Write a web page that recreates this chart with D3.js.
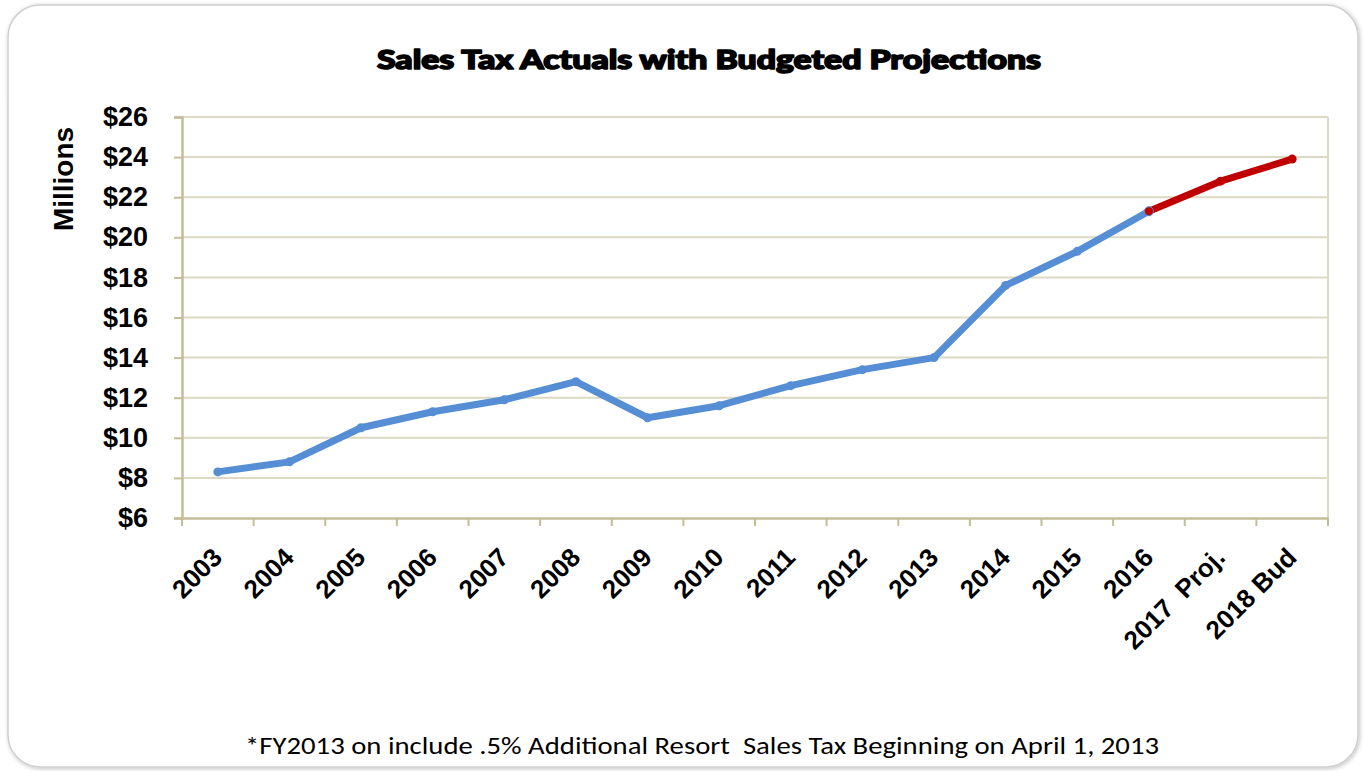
<!DOCTYPE html>
<html><head><meta charset="utf-8">
<script src="https://cdn.jsdelivr.net/npm/d3@7"></script>
<style>body{margin:0;background:#fff;}svg{display:block;}</style>
</head><body>
<svg id="c" width="1364" height="771"></svg>
<script>
const categories = ["2003","2004","2005","2006","2007","2008","2009","2010","2011","2012","2013","2014","2015","2016","2017  Proj.","2018 Bud"];
const actuals = [8.3, 8.8, 10.5, 11.3, 11.9, 12.8, 11.0, 11.6, 12.6, 13.4, 14.0, 17.6, 19.3, 21.3, null, null];
const projections = [null,null,null,null,null,null,null,null,null,null,null,null,null,21.3, 22.8, 23.9];
const yTicks = [6,8,10,12,14,16,18,20,22,24,26];
const titleText = "Sales Tax Actuals with Budgeted Projections";
const yAxisTitle = "Millions";
const footnote = "*FY2013 on include .5% Additional Resort  Sales Tax Beginning on April 1, 2013";

const svg = d3.select("#c");
const defs = svg.append("defs");
const f = defs.append("filter").attr("id","sh").attr("x","-5%").attr("y","-5%").attr("width","110%").attr("height","110%");
f.append("feDropShadow").attr("dx",1).attr("dy",1).attr("stdDeviation",2).attr("flood-color","#000").attr("flood-opacity",0.25);

svg.append("rect").attr("x",8).attr("y",5).attr("width",1350).attr("height",762)
  .attr("rx",32).attr("ry",32).attr("fill","#fff").attr("stroke","#cfcfcf").attr("stroke-width",1.5)
  .attr("filter","url(#sh)");

const m = {left:182, right:1328, top:117, bottom:518};
const x = d3.scaleBand().domain(categories).range([m.left, m.right]);
const y = d3.scaleLinear().domain([6,26]).range([m.bottom, m.top]);

// gridlines
svg.append("g").selectAll("line").data(yTicks.slice(1)).join("line")
  .attr("x1",m.left).attr("x2",m.right).attr("y1",d=>y(d)).attr("y2",d=>y(d))
  .attr("stroke","#ddd9c3").attr("stroke-width",2);
svg.append("line").attr("x1",m.right).attr("x2",m.right).attr("y1",m.top).attr("y2",m.bottom)
  .attr("stroke","#ddd9c3").attr("stroke-width",2);

// y axis
const yAxis = svg.append("g").attr("transform",`translate(${m.left},0)`)
  .call(d3.axisLeft(y).tickValues(yTicks).tickFormat(d=>"$"+d).tickSize(8).tickPadding(26));
yAxis.select(".domain").attr("stroke","#c4bd97").attr("stroke-width",2.5);
yAxis.selectAll(".tick line").attr("stroke","#c4bd97").attr("stroke-width",2);
yAxis.selectAll("text").attr("font-family","Liberation Sans, Arial, sans-serif").attr("font-weight","bold")
  .attr("font-size",27).attr("fill","#000");

// x axis
const xAxis = svg.append("g").attr("transform",`translate(0,${m.bottom})`)
  .call(d3.axisBottom(x).tickSize(0).tickFormat(""));
xAxis.select(".domain").attr("stroke","#c4bd97").attr("stroke-width",2.5);
xAxis.selectAll(".tick").remove();
const bounds = categories.map(c=>x(c)).concat([x(categories[categories.length-1])+x.bandwidth()]);
svg.append("g").selectAll("line").data(bounds).join("line")
  .attr("x1",d=>d).attr("x2",d=>d).attr("y1",m.bottom).attr("y2",m.bottom+8)
  .attr("stroke","#c4bd97").attr("stroke-width",2);
svg.append("g").selectAll("text").data(categories).join("text")
  .attr("transform",d=>`translate(${x(d)+x.bandwidth()/2+6},${m.bottom+41}) rotate(-45)`)
  .attr("text-anchor","end")
  .attr("font-family","Liberation Sans, Arial, sans-serif").attr("font-weight","bold").attr("font-size",26)
  .attr("fill","#000").attr("xml:space","preserve").style("white-space","pre").text(d=>d);

// y axis title
svg.append("text").attr("transform","translate(73,179) rotate(-90)").attr("text-anchor","middle")
  .attr("font-family","Liberation Sans, Arial, sans-serif").attr("font-weight","bold").attr("font-size",28)
  .text(yAxisTitle);

// title
svg.append("text").attr("x",709).attr("y",69).attr("text-anchor","middle")
  .attr("font-family","Lato, DejaVu Sans, sans-serif").attr("font-weight",900)
  .attr("stroke","#000").attr("stroke-width",1.6).attr("stroke-linejoin","round")
  .attr("font-size",27).attr("textLength",664).attr("lengthAdjust","spacingAndGlyphs").text(titleText);

// footnote
svg.append("text").attr("x",245).attr("y",754).attr("text-anchor","start")
  .attr("font-family","Carlito, Open Sans, sans-serif").attr("font-size",25)
  .attr("textLength",914).attr("lengthAdjust","spacingAndGlyphs").attr("xml:space","preserve")
  .style("white-space","pre").text(footnote);

const cx = d => x(d)+x.bandwidth()/2;
const line = d3.line().defined(d=>d.v!=null).x(d=>cx(d.c)).y(d=>y(d.v));
const aData = categories.map((c,i)=>({c, v:actuals[i]}));
const pData = categories.map((c,i)=>({c, v:projections[i]}));

svg.append("path").datum(aData).attr("d",line).attr("fill","none").attr("stroke","#558ed5")
  .attr("stroke-width",7).attr("stroke-linejoin","round");
svg.append("g").selectAll("circle").data(aData.filter(d=>d.v!=null)).join("circle")
  .attr("cx",d=>cx(d.c)).attr("cy",d=>y(d.v)).attr("r",4.5).attr("fill","#558ed5");

svg.append("path").datum(pData).attr("d",line).attr("fill","none").attr("stroke","#c00000")
  .attr("stroke-width",7).attr("stroke-linejoin","round");
svg.append("g").selectAll("circle").data(pData.filter(d=>d.v!=null)).join("circle")
  .attr("cx",d=>cx(d.c)).attr("cy",d=>y(d.v)).attr("r",4.5).attr("fill","#c00000")
  .attr("stroke",(d,i)=>i===0?"#558ed5":"none").attr("stroke-width",1);
</script>
</body></html>
